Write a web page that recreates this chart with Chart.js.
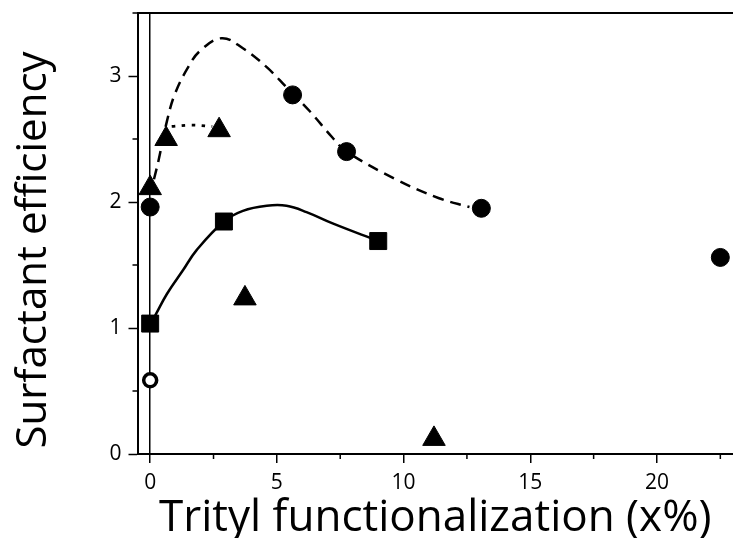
<!DOCTYPE html>
<html>
<head>
<meta charset="utf-8">
<script src="https://cdn.jsdelivr.net/npm/chart.js@4.4.1/dist/chart.umd.min.js"></script>
<style>
html,body{margin:0;padding:0;background:#fff;overflow:hidden;}
#wrap{width:733px;height:538px;position:relative;overflow:hidden;}
canvas{display:block;}
</style>
</head>
<body>
<div id="wrap"><canvas id="c" width="733" height="538"></canvas></div>
<script>
// ---- data ----
const circlesX = [0, 5.62, 7.75, 13.07, 22.5];
const circlesY = [1.96, 2.85, 2.40, 1.95, 1.56];
const openCircleX = [0];
const openCircleY = [0.585];
const squaresX = [0, 2.91, 9.0];
const squaresY = [1.035, 1.845, 1.69];
const trianglesX = [0, 0.63, 2.72, 3.74, 11.2];
const trianglesY = [2.11, 2.50, 2.57, 1.235, 0.12];
// fitted guide curves
const dashedX = [0.15, 0.33, 0.66, 0.98, 1.5, 1.97, 2.82, 3.66, 4.6, 5.38, 6.3, 7.2, 7.75, 9.8, 11.4, 12.6];
const dashedY = [2.18, 2.33, 2.64, 2.86, 3.07, 3.20, 3.30, 3.22, 3.07, 2.91, 2.72, 2.51, 2.40, 2.17, 2.03, 1.96];
const dottedX = [0.85, 1.6, 2.45];
const dottedY = [2.60, 2.61, 2.60];
const solidX = [0, 0.2, 0.66, 1.3, 1.84, 2.91, 3.66, 4.6, 5.38, 6.17, 7.2, 9.0];
const solidY = [1.035, 1.10, 1.27, 1.46, 1.62, 1.845, 1.93, 1.97, 1.97, 1.92, 1.83, 1.69];
const xMajorTicks = [0, 5, 10, 15, 20];
const xMinorTicks = [2.5, 7.5, 12.5, 17.5, 22.5];
const yMajorTicks = [0, 1, 2, 3];
const yMinorTicks = [0.5, 1.5, 2.5, 3.5];
const xTitle = 'Trityl functionalization (x%)';
const yTitle = 'Surfactant efficiency';

const pts = (xs, ys) => xs.map((x, i) => ({x: x, y: ys[i]}));
const FONT = "'Open Sans', 'Noto Sans', sans-serif";

const extras = {
  id: 'extras',
  afterDraw(chart) {
    const ctx = chart.ctx, a = chart.chartArea;
    const xs = chart.scales.x, ys = chart.scales.y;
    ctx.save();
    ctx.strokeStyle = '#000';
    ctx.lineWidth = 1.5;
    ctx.beginPath();
    xMinorTicks.forEach(v => {
      const p = xs.getPixelForValue(v);
      ctx.moveTo(p, a.bottom); ctx.lineTo(p, a.bottom + 5);
    });
    yMinorTicks.forEach(v => {
      const p = ys.getPixelForValue(v);
      ctx.moveTo(a.left, p); ctx.lineTo(a.left - 5, p);
    });
    ctx.stroke();
    // top frame line
    ctx.lineWidth = 2;
    ctx.beginPath();
    ctx.moveTo(a.left, a.top); ctx.lineTo(a.right, a.top);
    ctx.stroke();
    // y axis title
    ctx.fillStyle = '#000';
    ctx.font = "42px " + FONT;
    ctx.textAlign = 'center';
    ctx.textBaseline = 'alphabetic';
    ctx.translate(46, 250);
    ctx.rotate(-Math.PI / 2);
    ctx.fillText(yTitle, 0, 0);
    ctx.restore();
  }
};

new Chart(document.getElementById('c'), {
  type: 'scatter',
  data: {
    datasets: [
      {label: 'circles', data: pts(circlesX, circlesY), pointStyle: 'circle', pointRadius: 9, pointHoverRadius: 9,
       backgroundColor: '#000', borderColor: '#000', borderWidth: 1, order: 1},
      {label: 'open', data: pts(openCircleX, openCircleY), pointStyle: 'circle', pointRadius: 6.5, pointHoverRadius: 6.5,
       backgroundColor: '#fff', borderColor: '#000', borderWidth: 3.5, order: 1},
      {label: 'squares', data: pts(squaresX, squaresY), pointStyle: 'rect', pointRadius: 12, pointHoverRadius: 12,
       backgroundColor: '#000', borderColor: '#000', borderWidth: 1, order: 1},
      {label: 'triangles', data: pts(trianglesX, trianglesY), pointStyle: 'triangle', pointRadius: 13, pointHoverRadius: 13,
       backgroundColor: '#000', borderColor: '#000', borderWidth: 1, order: 1},
      {label: 'dashed', data: pts(dashedX, dashedY), showLine: true, pointRadius: 0, borderColor: '#000',
       borderWidth: 2.5, borderDash: [11, 7], tension: 0.4, fill: false, order: 5},
      {label: 'dotted', data: pts(dottedX, dottedY), showLine: true, pointRadius: 0, borderColor: '#000',
       borderWidth: 2.8, borderDash: [3.5, 6.5], tension: 0.4, fill: false, order: 5},
      {label: 'solid', data: pts(solidX, solidY), showLine: true, pointRadius: 0, borderColor: '#000',
       borderWidth: 2.5, tension: 0.4, fill: false, order: 5}
    ]
  },
  options: {
    responsive: false,
    animation: false,
    events: [],
    layout: {autoPadding: false, padding: {top: 13, right: 0, left: 0, bottom: 0}},
    plugins: {legend: {display: false}, tooltip: {enabled: false}},
    scales: {
      x: {
        type: 'linear', min: -0.5, max: 23,
        afterBuildTicks: s => { s.ticks = xMajorTicks.map(v => ({value: v})); },
        afterFit: s => { s.height = 84; s.paddingLeft = 0; s.paddingRight = 0; },
        border: {display: true, color: '#000', width: 2},
        grid: {
          drawOnChartArea: true,
          color: c => (c.tick && c.tick.value === 0) ? '#000' : 'rgba(0,0,0,0)',
          lineWidth: 1.5, tickColor: '#000', tickWidth: 1.5, tickLength: 9
        },
        ticks: {color: '#000', padding: 7, font: {family: FONT, size: 21}, maxRotation: 0,
                callback: v => String(v)},
        title: {display: true, text: xTitle, color: '#000', font: {family: FONT, size: 44},
                padding: {top: 0, bottom: -7}}
      },
      y: {
        type: 'linear', min: 0, max: 3.5,
        afterBuildTicks: s => { s.ticks = yMajorTicks.map(v => ({value: v})); },
        afterFit: s => { s.width = 137.5; s.paddingTop = 0; s.paddingBottom = 0; },
        border: {display: true, color: '#000', width: 2},
        grid: {drawOnChartArea: false, color: 'rgba(0,0,0,0)', tickColor: '#000', tickWidth: 1.5, tickLength: 9},
        ticks: {color: '#000', padding: 7, font: {family: FONT, size: 21}, callback: v => String(v)},
        title: {display: false, text: yTitle}
      }
    }
  },
  plugins: [extras]
});
</script>
</body>
</html>
